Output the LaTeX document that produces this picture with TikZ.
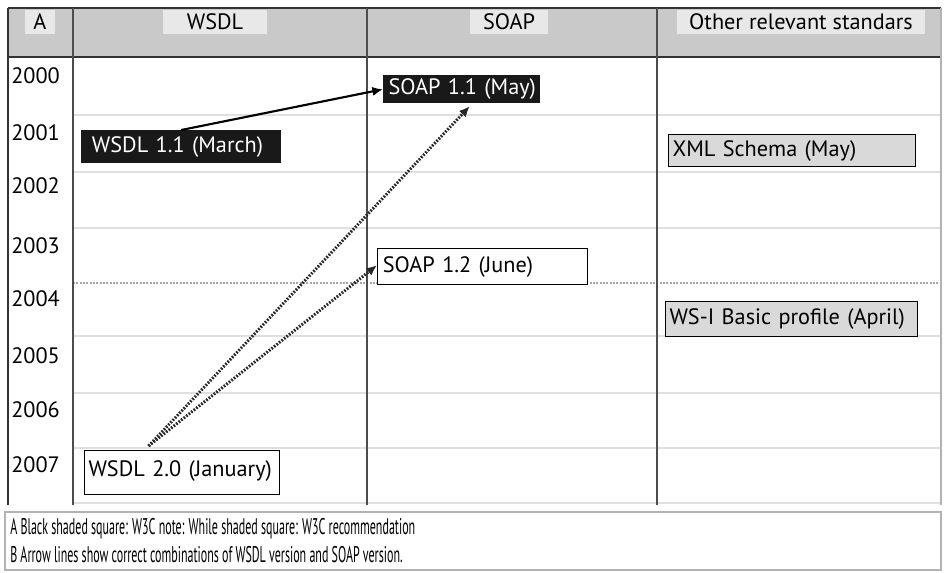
\documentclass[tikz,border=0pt]{standalone}
\usepackage{fontspec}
\setmainfont{PT Sans}
\newfontfamily\notefont[FakeStretch=0.53]{PT Sans}
\usetikzlibrary{arrows.meta}

\begin{document}
\begin{tikzpicture}[
    x=0.75pt, y=-0.75pt,
    every node/.style={font=\fontsize{16.7}{19}\selectfont},
    year/.style={anchor=west, inner sep=0pt},
    headlabel/.style={fill=gray!18, inner sep=0pt, minimum height=18pt},
    w3cnote/.style={fill=black!90, text=white, anchor=north west, align=left, inner ysep=0pt},
    w3crec/.style={draw=black, thick, fill=white, anchor=north west, align=left, inner ysep=0pt},
    otherstd/.style={draw=black, thick, fill=gray!30, anchor=north west, align=left, inner ysep=0pt},
    combo/.style={line width=2.2pt, dash pattern=on 1.3pt off 1.1pt, black!85, -{Latex[length=8pt,width=7pt]}}
]
    % Define table dimensions
    \def\tabtop{8};
    \def\headbottom{57};
    \def\tabbottom{505};
    \def\tableft{8};
    \def\tabright{941};

    \useasboundingbox (0,0) rectangle (947,572);

    % Header band
    \fill[gray!42] (\tableft,\tabtop) rectangle (\tabright,\headbottom);

    % Faint year rows
    \foreach \ry in {115,172,228,336,393,448,503} {
        \draw[gray!25, line width=1.2pt] (73,\ry) -- (\tabright,\ry);
    }
    \draw[gray!70, line width=1.3pt, dash pattern=on 1.5pt off 1pt] (73,283) -- (\tabright,283);

    % Frame and column lines
    \draw[black!80, line width=1.8pt] (\tableft,\tabtop) -- (\tabright,\tabtop);
    \draw[black!80, line width=1.8pt] (\tableft,\headbottom) -- (\tabright,\headbottom);
    \draw[black!80, line width=2.2pt] (\tableft,\tabtop) -- (\tableft,\tabbottom);
    \foreach \cx in {73,367,657} {
        \draw[black!70, line width=1.6pt] (\cx,\tabtop) -- (\cx,\tabbottom);
    }
    \draw[gray!60, line width=0.8pt] (\tabright,\tabtop) -- (\tabright,\tabbottom);

    % Column heads
    \node[headlabel, minimum width=22.5pt] (headA) at (40,22) {A};
    \node[headlabel, minimum width=78pt] (headWSDL) at (215,22) {WSDL};
    \node[headlabel, minimum width=59pt] (headSOAP) at (509,22) {SOAP};
    \node[headlabel, minimum width=186pt] (headOther) at (801,22) {Other relevant standars};

    % Years
    \foreach \yr/\ypos in {2000/76,2001/133,2002/186,2003/246,2004/299,2005/356,2006/410,2007/465} {
        \node[year] (y\yr) at (11,\ypos) {\yr};
    }

    % Standards
    \node[w3cnote, inner xsep=4pt, text width=109.75pt, minimum height=21pt] (soap11) at (383,75) {\mbox{SOAP 1.1 (May)}};
    \node[w3cnote, inner xsep=8pt, text width=134pt, minimum height=24.75pt] (wsdl11) at (81,130) {\mbox{WSDL 1.1 (March)}};
    \node[otherstd, inner xsep=3pt, text width=179pt, minimum height=24pt] (xmlschema) at (668,134) {XML Schema (May)};
    \node[w3crec, inner xsep=4pt, text width=149.5pt, minimum height=27pt] (soap12) at (377,248) {SOAP 1.2 (June)};
    \node[otherstd, inner xsep=3pt, text width=183pt, minimum height=26pt] (wsibasic) at (665,301) {WS-I Basic profile (April)};
    \node[w3crec, inner xsep=3pt, text width=140pt, minimum height=33pt] (wsdl20) at (84,450) {\raisebox{6pt}{WSDL 2.0 (January)}};

    % Combinations
    \draw[black, line width=1.6pt, -{Latex[length=8pt,width=7pt]}] (wsdl11.north) -- (soap11.west);
    \coordinate (w20start) at ([xshift=-25pt,yshift=3pt]wsdl20.north);
    \draw[combo] (w20start) -- ([xshift=6pt,yshift=-2pt]soap11.south);
    \draw[combo] (w20start) -- ([yshift=1pt]soap12.west);

    % Legend
    \draw[gray!60, line width=0.8pt, fill=white] (5,512) rectangle (\tabright,570);
    \node[anchor=west, inner sep=0pt, font=\notefont\fontsize{17}{19}\selectfont] (legendA) at (10,529) {A Black shaded square: W3C note: While shaded square: W3C recommendation};
    \node[anchor=west, inner sep=0pt, font=\notefont\fontsize{17}{19}\selectfont] (legendB) at (10,555) {B Arrow lines show correct combinations of WSDL version and SOAP version.};
\end{tikzpicture}
\end{document}
